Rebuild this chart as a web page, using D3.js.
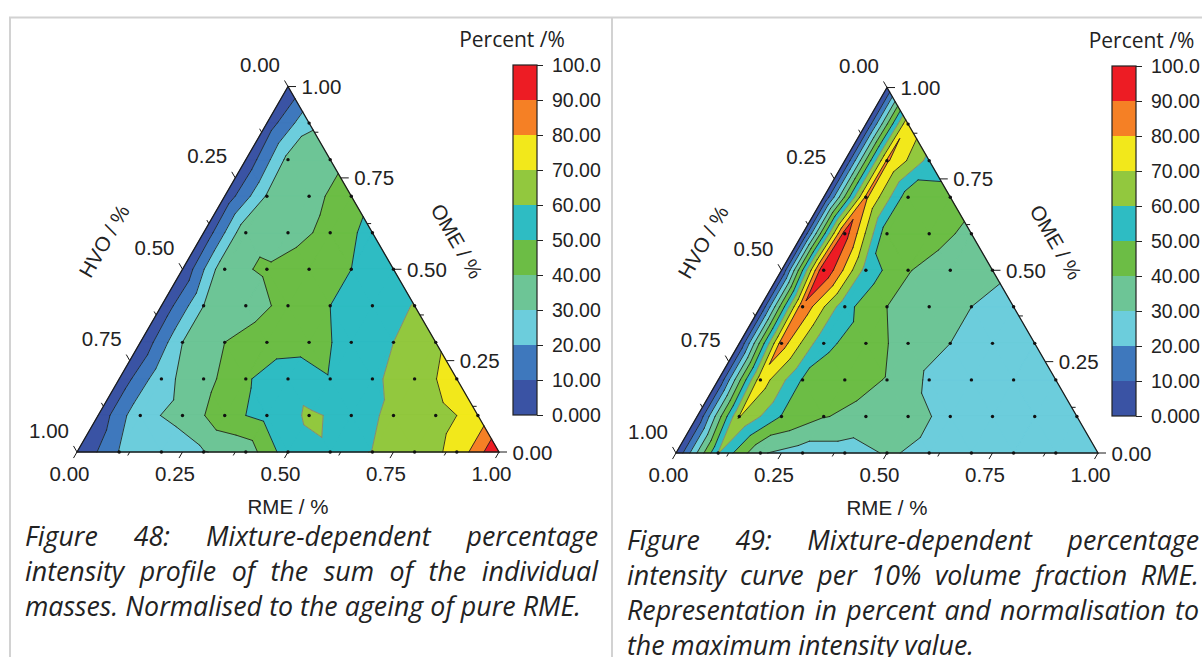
<!DOCTYPE html>
<html><head><meta charset="utf-8">
<script src="https://cdn.jsdelivr.net/npm/d3@7"></script>
<style>
html,body{margin:0;padding:0;background:#fff;overflow:hidden}
svg{display:block}
.ax{font-family:"Liberation Sans",Arial,sans-serif;fill:#222}
.cap{font-family:"Open Sans","Noto Sans",sans-serif;font-style:italic;fill:#222}
</style></head><body>
<svg id="chart" width="1202" height="657"></svg>
<script>
// ---------------- data ----------------
const levels = [0,10,20,30,40,50,60,70,80,90,100];
const bandColors = ["#3a53a4","#3e78bd","#6ccddc","#6dc596","#6cbd45","#2ebcc3","#92c83e","#f2e81b","#f58025","#ed1c24"];
const axisTicks = [0,0.25,0.5,0.75,1];
const axisTickLabels = ["0.00","0.25","0.50","0.75","1.00"];
const minorTicks = [0.125,0.375,0.625,0.875];
const colorbarTicks = [0,10,20,30,40,50,60,70,80,90,100];
const colorbarTickLabels = ["0.000","10.00","20.00","30.00","40.00","50.00","60.00","70.00","80.00","90.00","100.0"];
// rows: OME = 0.0 ... 1.0 (step 0.1); entries: RME = 0.0 ... (1-OME) (step 0.1)
const fig48Intensity = [
  [0.5, 20.5, 25, 29.5, 34, 55.6, 59, 60.1, 66, 72, 100],
  [3, 28, 32.2, 47, 53, 61.5, 57, 61.5, 68, 72],
  [3, 27, 36, 49, 56, 50.5, 58, 66, 73.7],
  [1.2, 30, 40, 45, 46, 53.4, 60, 68.7],
  [2.2, 30, 36, 42.6, 50, 55, 60.5],
  [1, 38, 41, 46, 50, 53],
  [2, 38, 36, 42.8, 54],
  [3, 31, 37, 44.9],
  [2, 33, 37],
  [4, 28.3],
  [1]
];
const fig49Intensity = [
  [0, 60.5, 31, 25, 25, 31, 27.8, 26, 25, 24, 23],
  [0, 70.5, 49.5, 40.5, 37, 33, 27.6, 26, 25, 24],
  [0, 76.2, 49, 44, 39.5, 28.3, 27, 26, 25],
  [0, 85, 52, 45.7, 35, 30, 27, 26],
  [0, 88, 53, 40, 34, 30, 24.7],
  [0, 100, 56, 40.5, 35, 33],
  [0, 95, 43, 44, 37.5],
  [0, 82, 44, 45],
  [0, 81.5, 56.7],
  [0, 79],
  [0]
];
const caption48 = [
  "Figure 48: Mixture-dependent percentage",
  "intensity profile of the sum of the individual",
  "masses. Normalised to the ageing of pure RME."
];
const caption49 = [
  "Figure 49: Mixture-dependent percentage",
  "intensity curve per 10% volume fraction RME.",
  "Representation in percent and normalisation to",
  "the maximum intensity value."
];

// ---------------- drawing ----------------
const svg = d3.select("#chart");
const SQ3 = Math.sqrt(3)/2;

// frame lines
svg.append("line").attr("x1",9).attr("x2",1202).attr("y1",17.5).attr("y2",17.5).attr("stroke","#d2d2d2").attr("stroke-width",2);
svg.append("line").attr("x1",10).attr("x2",10).attr("y1",17).attr("y2",657).attr("stroke","#d2d2d2").attr("stroke-width",2);
svg.append("line").attr("x1",612).attr("x2",612).attr("y1",17).attr("y2",657).attr("stroke","#d2d2d2").attr("stroke-width",2);

const panels = [
  {L:77, B:452, W:422, values:fig48Intensity, titleX:512, titleY:46.5},
  {L:676, B:453, W:422, values:fig49Intensity, titleX:1141.5, titleY:47.5}
];

function clip(poly, t, keepAbove){
  const out=[];
  for(let k=0;k<poly.length;k++){
    const a=poly[k], b=poly[(k+1)%poly.length];
    const ain = keepAbove ? a.v>=t : a.v<=t;
    const bin = keepAbove ? b.v>=t : b.v<=t;
    if(ain) out.push(a);
    if(ain!==bin){
      const f=(t-a.v)/(b.v-a.v);
      out.push({x:a.x+f*(b.x-a.x), y:a.y+f*(b.y-a.y), v:t});
    }
  }
  return out;
}

function drawPanel(p){
  const H = p.W*SQ3;
  const xs = d3.scaleLinear().domain([0,1]).range([p.L, p.L+p.W]);
  const ys = d3.scaleLinear().domain([0,1]).range([p.B, p.B-H]);
  const X = (r,o)=>xs(r+o/2), Y = o=>ys(o);
  const g = svg.append("g");
  const n = p.values.length-1;
  const node = (i,j)=>{ let v=p.values[j][i]; if(levels.includes(v)) v+=1e-4; return {x:X(i/n,j/n), y:Y(j/n), v}; };
  const tris=[];
  for(let j=0;j<n;j++) for(let i=0;i+j<n;i++){
    tris.push([node(i,j),node(i+1,j),node(i,j+1)]);
    if(i+j<n-1) tris.push([node(i+1,j),node(i+1,j+1),node(i,j+1)]);
  }
  // filled bands
  bandColors.forEach((col,k)=>{
    const lo = k===0 ? -Infinity : levels[k];
    const hi = k===bandColors.length-1 ? Infinity : levels[k+1];
    let d="";
    tris.forEach(t=>{
      let poly = isFinite(lo) ? clip(t,lo,true) : t;
      if(poly.length>=3 && isFinite(hi)) poly = clip(poly,hi,false);
      if(poly.length>=3) d += "M"+poly.map(q=>q.x.toFixed(2)+","+q.y.toFixed(2)).join("L")+"Z";
    });
    if(d) g.append("path").attr("d",d).attr("fill",col).attr("stroke",col).attr("stroke-width",0.7).attr("stroke-linejoin","round");
  });
  // contour lines
  levels.slice(1,-1).forEach(t=>{
    let d="";
    tris.forEach(tri=>{
      const pts=[];
      for(let k=0;k<3;k++){
        const a=tri[k], b=tri[(k+1)%3];
        if((a.v-t)*(b.v-t)<0){ const f=(t-a.v)/(b.v-a.v); pts.push([a.x+f*(b.x-a.x), a.y+f*(b.y-a.y)]); }
      }
      if(pts.length===2) d += "M"+pts[0][0].toFixed(2)+","+pts[0][1].toFixed(2)+"L"+pts[1][0].toFixed(2)+","+pts[1][1].toFixed(2);
    });
    if(d) g.append("path").attr("d",d).attr("fill","none").attr("stroke", t===60 ? "#808080" : "#1c1c1c").attr("stroke-width",0.85).attr("stroke-linecap","round");
  });
  // outline
  g.append("path").attr("d",`M${X(0,0)},${Y(0)}L${X(1,0)},${Y(0)}L${X(0,1)},${Y(1)}Z`).attr("fill","none").attr("stroke","#1a1a1a").attr("stroke-width",1.3);
  // ticks
  const tk = g.append("g").attr("stroke","#1a1a1a").attr("stroke-width",1);
  const addTick=(x0,y0,dx,dy,len)=>tk.append("line").attr("x1",x0).attr("y1",y0).attr("x2",x0+dx*len).attr("y2",y0+dy*len);
  axisTicks.forEach(t=>{
    addTick(X(t,0),Y(0),-0.5,SQ3,7);          // RME (bottom)
    addTick(X(0,1-t),Y(1-t),-0.5,-SQ3,7);     // HVO (left)
    addTick(X(1-t,t),Y(t),1,0,8);             // OME (right)
  });
  minorTicks.forEach(t=>{
    addTick(X(t,0),Y(0),-0.5,SQ3,4);
    addTick(X(0,1-t),Y(1-t),-0.5,-SQ3,4);
    addTick(X(1-t,t),Y(t),1,0,4);
  });
  // data points (left-edge points are not marked in the reference)
  const pts=[];
  for(let j=0;j<=n;j++) for(let i=1;i+j<=n;i++){
    if(i===n&&j===0) continue;
    pts.push({x:X(i/n,j/n), y:Y(j/n)});
  }
  g.selectAll("circle.pt").data(pts).join("circle").attr("class","pt").attr("cx",d=>d.x).attr("cy",d=>d.y).attr("r",1.7).attr("fill","#111");
  // tick labels
  axisTicks.forEach((t,k)=>{
    g.append("text").attr("class","ax").attr("x",X(t,0)-7.5).attr("y",Y(0)+28.5).attr("text-anchor","middle").style("font-size","20.5px").text(axisTickLabels[k]);
    g.append("text").attr("class","ax").attr("x",X(0,1-t)-28).attr("y",Y(1-t)-14.5).attr("text-anchor","middle").style("font-size","20.5px").text(axisTickLabels[k]);
    g.append("text").attr("class","ax").attr("x",X(1-t,t)+13.5).attr("y",Y(t)+7.5).attr("text-anchor","start").style("font-size","20.5px").text(axisTickLabels[k]);
  });
  // axis titles
  g.append("text").attr("class","ax").attr("x",p.L+p.W/2).attr("y",p.B+62).attr("text-anchor","middle").style("font-size","20.5px").text("RME / %");
  g.append("text").attr("class","ax").attr("transform",`translate(${p.L+27},${p.B-211}) rotate(-60)`).attr("text-anchor","middle").attr("dominant-baseline","central").style("font-size","20.5px").text("HVO / %");
  g.append("text").attr("class","ax").attr("transform",`translate(${p.L+380},${p.B-211}) rotate(60)`).attr("text-anchor","middle").attr("dominant-baseline","central").style("font-size","20.5px").text("OME / %");
  // colorbar
  const cbX=p.L+436, cbTop=p.B-387, cbH=350, cbW=24;
  const cs=d3.scaleLinear().domain([0,100]).range([cbTop+cbH, cbTop]);
  bandColors.forEach((col,k)=>{
    g.append("rect").attr("x",cbX).attr("y",cs(levels[k+1])).attr("width",cbW).attr("height",cs(levels[k])-cs(levels[k+1])).attr("fill",col);
  });
  g.append("rect").attr("x",cbX).attr("y",cbTop).attr("width",cbW).attr("height",cbH).attr("fill","none").attr("stroke","#222").attr("stroke-width",1.2);
  const cax = g.append("g").attr("transform",`translate(${cbX+cbW},0)`)
    .call(d3.axisRight(cs).tickValues(colorbarTicks).tickFormat((d,i)=>colorbarTickLabels[i]).tickSize(6).tickPadding(9));
  cax.select(".domain").remove();
  cax.selectAll("line").attr("stroke","#222");
  cax.selectAll("text").attr("class","ax").style("font-size","19.5px").attr("fill","#222");
  g.append("text").attr("class","cap").style("font-style","normal").style("font-size","21px")
    .attr("x",p.titleX).attr("y",p.titleY).attr("text-anchor","middle").text("Percent /%");
}
panels.forEach(drawPanel);

// captions
function measure(str, fs){
  const t=svg.append("text").attr("class","cap").style("font-size",fs+"px").text(str);
  const w=t.node().getComputedTextLength(); t.remove(); return w;
}
const fsA = 22*556/measure(caption48[2],22);
const fsB = 22*347/measure(caption49[3],22);
const capFs = (fsA+fsB)/2;
function drawCaption(lines, x0, x1, lastX1, base0){
  lines.forEach((line,k)=>{
    const words=line.split(" ");
    const span=(k===lines.length-1 ? lastX1 : x1)-x0;
    const nodes=words.map(w=>svg.append("text").attr("class","cap").attr("y",base0+k*35.2).style("font-size",capFs+"px").text(w));
    const widths=nodes.map(t=>t.node().getComputedTextLength());
    const gap=words.length>1 ? (span-d3.sum(widths))/(words.length-1) : 0;
    let cx=x0;
    nodes.forEach((t,m)=>{ t.attr("x",cx); cx+=widths[m]+gap; });
  });
}
drawCaption(caption48, 25, 598, 581, 546);
drawCaption(caption49, 627, 1199, 974, 549.5);
</script>
</body></html>
